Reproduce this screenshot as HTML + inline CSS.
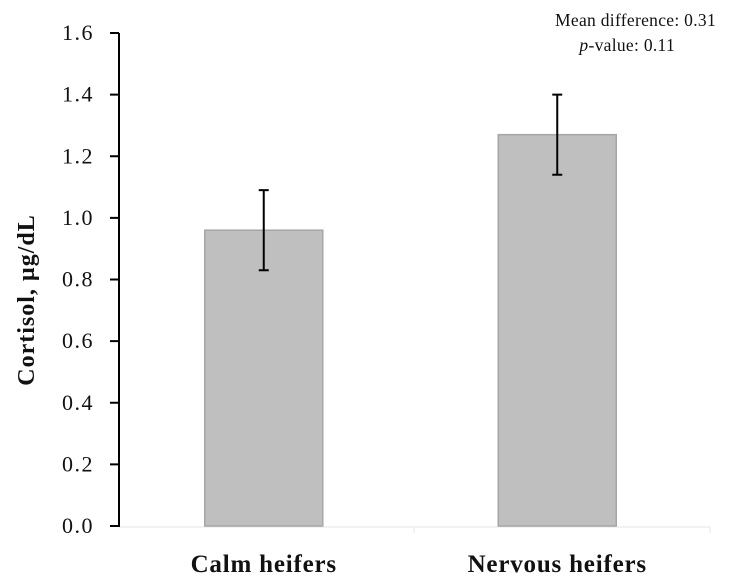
<!DOCTYPE html>
<html><head><meta charset="utf-8"><style>
body{margin:0;background:#fff;}
svg{display:block;font-family:"Liberation Serif",serif;}
</style></head><body>
<svg id="chart" width="733" height="587">
<g id="axes"></g><g id="bars"></g>
<text x="716" y="26" text-anchor="end" font-size="17.5" fill="#111" letter-spacing="0.3">Mean difference: 0.31</text>
<text x="675" y="51" text-anchor="end" font-size="17.5" fill="#111" letter-spacing="0.3"><tspan font-style="italic">p</tspan>-value: 0.11</text>
<text transform="translate(34,300) rotate(-90)" text-anchor="middle" font-size="24" font-weight="bold" letter-spacing="1" fill="#111">Cortisol, µg/dL</text>
</svg>
<script>
const categories=["Calm heifers","Nervous heifers"];
const means=[0.96,1.27];
const errLow=[0.83,1.14];
const errHigh=[1.09,1.40];
const yTicks=[0,0.2,0.4,0.6,0.8,1.0,1.2,1.4,1.6];
const NS="http://www.w3.org/2000/svg";
const x0=117,x1=704,y0=526,y1=33,ymax=1.6;
function y(v){return y0-(v/ymax)*(y0-y1);}
const band=(x1-x0)/categories.length;
function xc(i){return x0+band*(i+0.5);}
function mk(t,a,p){const e=document.createElementNS(NS,t);for(const k in a)e.setAttribute(k,a[k]);p.appendChild(e);return e;}
const ax=document.getElementById('axes'),bs=document.getElementById('bars');
let xl=mk('line',{x1:119,y1:y0+1,x2:710,y2:y0+1,stroke:'#e4e4e4','stroke-width':1},ax);


[414,710].forEach(px=>{
 let t=mk('line',{x1:px,y1:y0+1,x2:px,y2:y0+7,stroke:'#e4e4e4'},ax);
 
 
});
let yl=mk('line',{x1:119,y1:y1,x2:119,y2:y0+1,stroke:'#000','stroke-width':2},ax);


yTicks.forEach(v=>{
 let t=mk('line',{x1:110,y1:y(v),x2:119,y2:y(v),stroke:'#000','stroke-width':2},ax);
 
 
 let l=mk('text',{x:94,y:y(v)+7,'text-anchor':'end','font-size':22,'letter-spacing':1.5,fill:'#111'},ax);
 l.textContent=v.toFixed(1);
 
 
});
const bw=118;
categories.forEach((c,i)=>{
 let r=mk('rect',{x:xc(i)-bw/2,y:y(means[i]),width:bw,height:y0-y(means[i]),fill:'#bfbfbf',stroke:'#a6a6a6','stroke-width':1.5},bs);
 
 
 const g=mk('g',{stroke:'#000','stroke-width':2},bs);
 
 
 mk('line',{x1:xc(i),y1:y(errHigh[i]),x2:xc(i),y2:y(errLow[i])},g);
 mk('line',{x1:xc(i)-5,y1:y(errHigh[i]),x2:xc(i)+5,y2:y(errHigh[i])},g);
 mk('line',{x1:xc(i)-5,y1:y(errLow[i]),x2:xc(i)+5,y2:y(errLow[i])},g);
 let l=mk('text',{x:xc(i),y:572,'text-anchor':'middle','font-size':25,'font-weight':'bold','letter-spacing':0.8,fill:'#111'},bs);
 l.textContent=c;
 
 
});
</script>
</body></html>
